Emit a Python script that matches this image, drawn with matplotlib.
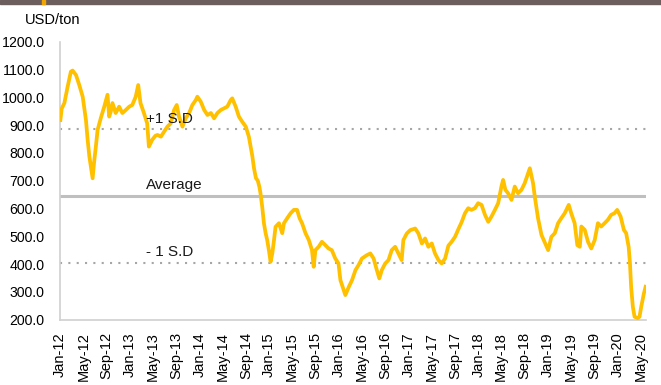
import matplotlib
matplotlib.use("Agg")
import matplotlib.pyplot as plt
import pandas as pd
from matplotlib.patches import Rectangle

plt.rcParams['font.family'] = ['Liberation Sans', 'DejaVu Sans']

# Price series (USD/ton)
dates = [
    "2012-01-02", "2012-01-09", "2012-01-23", "2012-02-09", "2012-02-26", "2012-03-06",
    "2012-03-24", "2012-04-10", "2012-04-28", "2012-05-15", "2012-05-24", "2012-06-02",
    "2012-06-10", "2012-06-19", "2012-06-28", "2012-07-06", "2012-07-15", "2012-08-01",
    "2012-08-19", "2012-09-05", "2012-09-14", "2012-09-22", "2012-10-01", "2012-10-18",
    "2012-11-05", "2012-11-22", "2012-12-10", "2012-12-28", "2013-01-13", "2013-01-31",
    "2013-02-13", "2013-02-25", "2013-03-15", "2013-04-01", "2013-04-10", "2013-04-27",
    "2013-05-14", "2013-05-25", "2013-06-12", "2013-06-29", "2013-07-16", "2013-08-03",
    "2013-08-20", "2013-09-03", "2013-09-15", "2013-10-03", "2013-10-20", "2013-11-07",
    "2013-11-24", "2013-12-12", "2013-12-20", "2014-01-07", "2014-01-25", "2014-02-11",
    "2014-03-01", "2014-03-18", "2014-04-04", "2014-04-22", "2014-05-09", "2014-05-26",
    "2014-06-13", "2014-06-21", "2014-07-09", "2014-07-26", "2014-08-12", "2014-08-31",
    "2014-09-16", "2014-10-04", "2014-10-13", "2014-10-23", "2014-11-02", "2014-11-10",
    "2014-11-16", "2014-11-25", "2014-12-04", "2014-12-13", "2014-12-21", "2014-12-30",
    "2015-01-08", "2015-01-17", "2015-01-26", "2015-02-03", "2015-02-21", "2015-03-10",
    "2015-03-19", "2015-04-05", "2015-04-23", "2015-05-10", "2015-05-27", "2015-06-09",
    "2015-06-22", "2015-07-10", "2015-07-27", "2015-08-13", "2015-08-22", "2015-08-31",
    "2015-09-17", "2015-10-04", "2015-10-22", "2015-11-08", "2015-11-25", "2015-12-13",
    "2015-12-30", "2016-01-09", "2016-01-26", "2016-02-04", "2016-02-21", "2016-03-10",
    "2016-03-28", "2016-04-13", "2016-05-01", "2016-05-27", "2016-06-14", "2016-07-01",
    "2016-07-18", "2016-07-31", "2016-08-13", "2016-08-31", "2016-09-17", "2016-10-04",
    "2016-10-22", "2016-11-08", "2016-11-25", "2016-12-04", "2016-12-22", "2017-01-09",
    "2017-02-04", "2017-02-21", "2017-03-11", "2017-03-28", "2017-04-14", "2017-05-02",
    "2017-05-19", "2017-06-06", "2017-06-23", "2017-07-11", "2017-07-28", "2017-08-14",
    "2017-09-01", "2017-09-18", "2017-10-05", "2017-10-23", "2017-11-09", "2017-11-26",
    "2017-12-14", "2017-12-31", "2018-01-18", "2018-02-05", "2018-02-22", "2018-03-11",
    "2018-03-29", "2018-04-15", "2018-05-02", "2018-05-11", "2018-05-23", "2018-06-06",
    "2018-06-24", "2018-07-11", "2018-07-28", "2018-08-15", "2018-09-01", "2018-09-19",
    "2018-09-28", "2018-10-15", "2018-10-24", "2018-11-10", "2018-11-28", "2018-12-16",
    "2019-01-02", "2019-01-19", "2019-02-06", "2019-02-23", "2019-03-12", "2019-03-30",
    "2019-04-20", "2019-05-03", "2019-05-21", "2019-06-04", "2019-06-17", "2019-06-25",
    "2019-07-13", "2019-07-30", "2019-08-16", "2019-09-03", "2019-09-20", "2019-10-07",
    "2019-10-25", "2019-11-11", "2019-11-28", "2019-12-16", "2019-12-30", "2020-01-17",
    "2020-02-03", "2020-02-15", "2020-02-28", "2020-03-06", "2020-03-12", "2020-03-21",
    "2020-03-30", "2020-04-16", "2020-04-25", "2020-05-04", "2020-05-18", "2020-05-27",
]
prices = [
    919, 960, 980, 1039, 1093, 1097,
    1081, 1045, 1003, 919, 847, 787,
    751, 709, 775, 823, 883, 926,
    967, 1010, 931, 949, 980, 944,
    967, 944, 955, 967, 973, 1003,
    1045, 980, 944, 907, 823, 847,
    862, 865, 859, 877, 895, 907,
    955, 973, 931, 895, 925, 944,
    973, 991, 1003, 985, 955, 937,
    944, 925, 944, 955, 961, 967,
    991, 997, 967, 931, 913, 895,
    859, 790, 745, 710, 700, 679,
    655, 607, 547, 511, 487, 450,
    408, 438, 487, 534, 547, 511,
    547, 565, 583, 595, 595, 565,
    547, 511, 487, 450, 390, 450,
    462, 480, 468, 456, 450, 420,
    402, 342, 306, 288, 316, 342,
    378, 396, 420, 432, 438, 420,
    378, 348, 378, 402, 414, 450,
    462, 438, 414, 486, 510, 522,
    528, 510, 474, 492, 462, 474,
    438, 414, 402, 420, 466, 480,
    498, 525, 550, 583, 601, 595,
    601, 619, 613, 577, 552, 571,
    595, 619, 679, 703, 667, 655,
    631, 679, 655, 667, 691, 727,
    745, 691, 643, 565, 505, 477,
    450, 498, 511, 547, 565, 583,
    613, 583, 547, 468, 462, 535,
    523, 480, 456, 486, 547, 535,
    547, 559, 577, 583, 595, 571,
    523, 511, 462, 402, 318, 246,
    210, 205, 210, 246, 294, 318,
]

# Reference levels
average = 646
std_dev = 241

y_ticks = [200, 300, 400, 500, 600, 700, 800, 900, 1000, 1100, 1200]
tick_start = "2012-01-01"
tick_end = "2020-05-01"

series = pd.Series(prices, index=pd.to_datetime(dates))

fig = plt.figure(figsize=(6.61, 3.85), dpi=100)
ax = fig.add_axes([60 / 661, 1 - 319.5 / 385, 586 / 661, (319.5 - 42) / 385])

ax.plot(series.index, series.values, color="#ffc000", lw=2.7, solid_joinstyle="round", zorder=3)

ax.axhline(average, color="#bfbfbf", lw=2.2, zorder=2)
ax.axhline(average + std_dev, color="#a6a6a6", lw=1.5, ls=(0, (1, 3)), zorder=2)
ax.axhline(average - std_dev, color="#a6a6a6", lw=1.5, ls=(0, (1, 3)), zorder=2)

x_text = pd.Timestamp("2013-03-25")
ax.text(x_text, average + std_dev + 10, "+1 S.D", fontsize=11, va="bottom", ha="left", color="#1a1a1a", zorder=4)
ax.text(x_text, average + 15, "Average", fontsize=11, va="bottom", ha="left", color="#1a1a1a", zorder=4)
ax.text(x_text, average - std_dev + 12, "- 1 S.D", fontsize=11, va="bottom", ha="left", color="#1a1a1a", zorder=4)

ax.set_ylim(200, 1200)
ax.set_yticks(y_ticks)
ax.set_yticklabels([f"{v:.1f}" for v in y_ticks])
ax.set_xlim(pd.Timestamp("2011-12-31"), pd.Timestamp("2020-05-29"))
ticks = pd.date_range(tick_start, tick_end, freq="4MS")
ax.set_xticks(ticks)
ax.set_xticklabels([t.strftime("%b-%y") for t in ticks], rotation=90)

ax.tick_params(axis="both", length=0, colors="#000000")
ax.tick_params(axis="x", labelsize=10.5, pad=9)
ax.tick_params(axis="y", labelsize=10.2, pad=11)

for side in ("top", "right"):
    ax.spines[side].set_visible(False)
for side in ("left", "bottom"):
    ax.spines[side].set_color("#d0d0d0")
    ax.spines[side].set_linewidth(1.2)

fig.text(25 / 661, 1 - 20 / 385, "USD/ton", fontsize=10.5, va="center", ha="left")

# Header strip across the top
fig.patches.append(Rectangle((0, 1 - 4 / 385), 1, 4 / 385, transform=fig.transFigure,
                             color="#6b5e5c", zorder=0))
fig.patches.append(Rectangle((41.5 / 661, 1 - 4 / 385), 3 / 661, 4 / 385, transform=fig.transFigure,
                             color="#f0a500", zorder=1))

fig.savefig("out.png", dpi=100)
